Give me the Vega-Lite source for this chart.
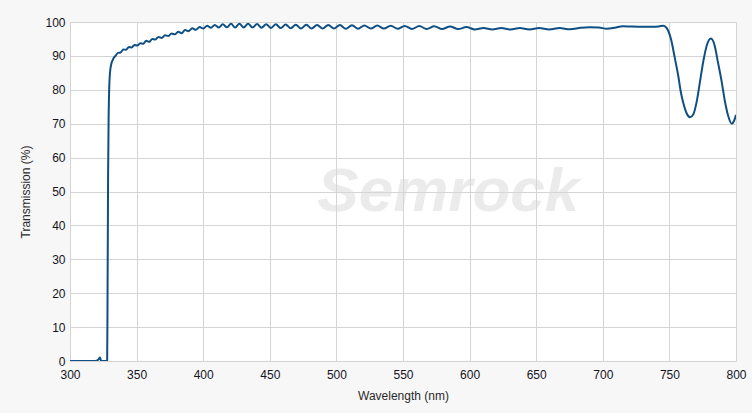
{
  "$schema": "https://vega.github.io/schema/vega-lite/v6.json",
  "width": 666,
  "height": 339,
  "autosize": {"type": "none"},
  "padding": {"left": 70, "top": 22, "right": 16, "bottom": 52},
  "background": "#f7f7f7",
  "config": {
    "view": {"fill": "#ffffff", "stroke": "#cfcfcf", "strokeWidth": 1},
    "axis": {
      "labelFont": "Liberation Sans",
      "titleFont": "Liberation Sans",
      "labelFontSize": 12,
      "titleFontSize": 12,
      "titleFontWeight": "normal",
      "labelColor": "#141424",
      "titleColor": "#2a2a2a",
      "gridColor": "#d4d4d4",
      "gridWidth": 1,
      "gridOpacity": 1,
      "grid": true,
      "ticks": false,
      "domain": false
    }
  },
  "layer": [
    {
      "data": {"values": [
        {"w": 300, "t": 0}, {"w": 310, "t": 0}, {"w": 318, "t": 0}, {"w": 320, "t": 0.1},
        {"w": 321.5, "t": 0.5}, {"w": 322.5, "t": 1.0}, {"w": 323.2, "t": 0.2}, {"w": 324, "t": 0},
        {"w": 327.9, "t": 0}, {"w": 328.2, "t": 20}, {"w": 328.6, "t": 55}, {"w": 329.0, "t": 72},
        {"w": 329.4, "t": 80}, {"w": 330.0, "t": 85}, {"w": 331.0, "t": 87.6}, {"w": 332.0, "t": 88.7},
        {"w": 333.0, "t": 89.5}, {"w": 334.3, "t": 90.1},
        {"w": 336.0, "t": 90.9}, {"w": 338.0, "t": 91.0}, {"w": 340.0, "t": 91.9}, {"w": 342.1, "t": 91.8},
        {"w": 344.2, "t": 92.6}, {"w": 346.3, "t": 92.5}, {"w": 348.4, "t": 93.25}, {"w": 350.6, "t": 93.05},
        {"w": 352.8, "t": 93.75}, {"w": 355.0, "t": 93.6}, {"w": 357.2, "t": 94.45}, {"w": 359.5, "t": 94.15},
        {"w": 361.8, "t": 95.0}, {"w": 364.1, "t": 94.85}, {"w": 366.5, "t": 95.6}, {"w": 368.9, "t": 95.3},
        {"w": 371.3, "t": 96.1}, {"w": 373.7, "t": 95.85}, {"w": 376.2, "t": 96.6}, {"w": 378.7, "t": 96.35},
        {"w": 381.2, "t": 97.15}, {"w": 383.8, "t": 96.7}, {"w": 386.4, "t": 97.65}, {"w": 389.1, "t": 97.3},
        {"w": 391.8, "t": 98.15}, {"w": 394.5, "t": 97.7}, {"w": 397.3, "t": 98.5}, {"w": 400.1, "t": 98.1},
        {"w": 402.9, "t": 98.9}, {"w": 405.8, "t": 98.3}, {"w": 408.7, "t": 99.15}, {"w": 411.7, "t": 98.4},
        {"w": 414.7, "t": 99.35}, {"w": 417.8, "t": 98.45}, {"w": 420.9, "t": 99.45}, {"w": 424.0, "t": 98.35},
        {"w": 427.2, "t": 99.45}, {"w": 430.4, "t": 98.35}, {"w": 433.7, "t": 99.45}, {"w": 437.0, "t": 98.35},
        {"w": 440.4, "t": 99.4}, {"w": 443.8, "t": 98.3}, {"w": 447.3, "t": 99.35}, {"w": 450.9, "t": 98.25},
        {"w": 454.5, "t": 99.3}, {"w": 458.2, "t": 98.2}, {"w": 461.9, "t": 99.25}, {"w": 465.7, "t": 98.15},
        {"w": 469.5, "t": 99.2}, {"w": 473.4, "t": 98.1}, {"w": 477.4, "t": 99.2}, {"w": 481.4, "t": 98.1},
        {"w": 485.5, "t": 99.15}, {"w": 489.7, "t": 98.05}, {"w": 493.9, "t": 99.15}, {"w": 498.2, "t": 98.05},
        {"w": 502.6, "t": 99.1}, {"w": 507.1, "t": 98.0}, {"w": 511.7, "t": 99.05}, {"w": 516.3, "t": 98.0},
        {"w": 521.0, "t": 99.0}, {"w": 525.8, "t": 98.05}, {"w": 530.7, "t": 98.95}, {"w": 535.7, "t": 98.05},
        {"w": 540.8, "t": 98.9}, {"w": 546.0, "t": 98.0}, {"w": 551.3, "t": 98.85}, {"w": 556.7, "t": 97.95},
        {"w": 562.2, "t": 98.8}, {"w": 567.8, "t": 97.95}, {"w": 573.5, "t": 98.75}, {"w": 579.3, "t": 97.9},
        {"w": 585.3, "t": 98.7}, {"w": 591.4, "t": 97.9}, {"w": 597.6, "t": 98.5}, {"w": 603.9, "t": 97.8},
        {"w": 610.4, "t": 98.25}, {"w": 617.0, "t": 97.8}, {"w": 623.7, "t": 98.2}, {"w": 630.6, "t": 97.8},
        {"w": 637.7, "t": 98.2}, {"w": 644.9, "t": 97.8}, {"w": 652.3, "t": 98.2}, {"w": 659.8, "t": 97.8},
        {"w": 667.5, "t": 98.2}, {"w": 675.4, "t": 97.85}, {"w": 683.5, "t": 98.3}, {"w": 690, "t": 98.45},
        {"w": 697, "t": 98.4}, {"w": 703, "t": 98.0}, {"w": 709, "t": 98.3}, {"w": 715, "t": 98.75},
        {"w": 722, "t": 98.65}, {"w": 730, "t": 98.6}, {"w": 738, "t": 98.6}, {"w": 742, "t": 98.7},
        {"w": 745.5, "t": 98.9}, {"w": 748, "t": 98.2}, {"w": 751.5, "t": 94.5}, {"w": 754, "t": 89.5},
        {"w": 756.7, "t": 84}, {"w": 758.5, "t": 79.5}, {"w": 760.5, "t": 76}, {"w": 763, "t": 73},
        {"w": 765.5, "t": 71.9}, {"w": 768, "t": 72.8}, {"w": 770.5, "t": 76.5}, {"w": 773, "t": 82.5},
        {"w": 775.5, "t": 88.5}, {"w": 778, "t": 93}, {"w": 781.2, "t": 95.1}, {"w": 784, "t": 93},
        {"w": 786.5, "t": 88}, {"w": 789.2, "t": 82.5}, {"w": 791.5, "t": 77}, {"w": 794, "t": 72.5},
        {"w": 796.8, "t": 70.0}, {"w": 798.5, "t": 70.8}, {"w": 800, "t": 72.6}
      ]},
      "mark": {"type": "line", "interpolate": "monotone", "color": "#0f4f83", "strokeWidth": 2, "clip": true},
      "encoding": {
        "x": {
          "field": "w", "type": "quantitative",
          "scale": {"domain": [300, 800], "nice": false, "zero": false},
          "axis": {"title": "Wavelength (nm)", "grid": true, "values": [300, 350, 400, 450, 500, 550, 600, 650, 700, 750, 800], "labelPadding": 8, "titlePadding": 10, "labelFlush": false}
        },
        "y": {
          "field": "t", "type": "quantitative",
          "scale": {"domain": [0, 100], "nice": false},
          "axis": {"title": "Transmission (%)", "grid": true, "values": [0, 10, 20, 30, 40, 50, 60, 70, 80, 90, 100], "labelPadding": 5, "titlePadding": 12}
        }
      }
    },
    {
      "data": {"values": [{"label": "Semrock"}]},
      "mark": {"type": "text", "fontSize": 62, "fontWeight": "bold", "fontStyle": "italic", "font": "Liberation Sans", "color": "#d8d8d8", "opacity": 0.5, "align": "center", "baseline": "middle"},
      "encoding": {
        "x": {"datum": 584, "type": "quantitative",
          "axis": {"title": "Wavelength (nm)", "grid": true, "values": [300, 350, 400, 450, 500, 550, 600, 650, 700, 750, 800], "labelPadding": 8, "titlePadding": 10, "labelFlush": false}},
        "y": {"datum": 50, "type": "quantitative",
          "axis": {"title": "Transmission (%)", "grid": true, "values": [0, 10, 20, 30, 40, 50, 60, 70, 80, 90, 100], "labelPadding": 5, "titlePadding": 12}},
        "text": {"field": "label"}
      }
    }
  ]
}
